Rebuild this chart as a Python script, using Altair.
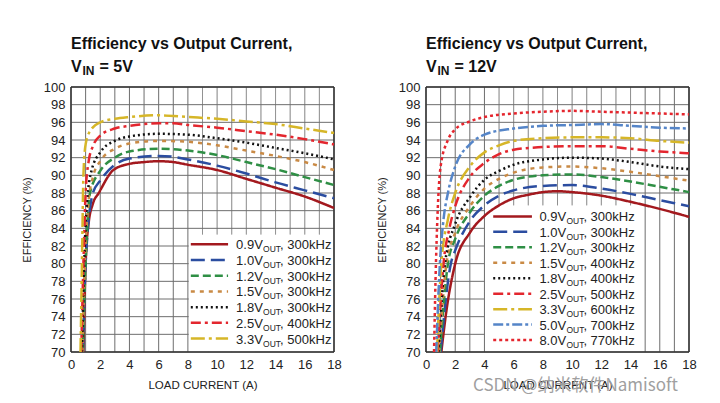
import altair as alt
import pandas as pd

FONT = "Liberation Sans, Arial, sans-serif"

# ---------------- Left panel: VIN = 5V ----------------
left_names = ["0.9V", "1.0V", "1.2V", "1.5V", "1.8V", "2.5V", "3.3V"]
left_freqs = ["300kHz", "300kHz", "300kHz", "300kHz", "300kHz", "400kHz", "500kHz"]

l09_i = [0.85, 1.0, 1.2, 1.5, 1.9, 2.9, 4, 5, 6, 7, 8, 10, 12, 14, 16, 18]
l09_e = [70, 80, 84.5, 86.8, 88.0, 90.6, 91.3, 91.5, 91.6, 91.5, 91.2, 90.6, 89.6, 88.6, 87.6, 86.3]
l10_i = [0.82, 1.0, 1.5, 2, 3, 4, 6, 7, 8, 10, 12, 14, 16, 18]
l10_e = [70, 80, 88.0, 89.4, 91.2, 91.9, 92.2, 92.1, 91.8, 91.1, 90.2, 89.2, 88.3, 87.4]
l12_i = [0.8, 1.0, 1.3, 2, 3, 4, 6, 8, 10, 12, 14, 16, 18]
l12_e = [70, 80, 88.0, 90.5, 92.0, 92.7, 93.0, 92.8, 92.3, 91.5, 90.7, 89.8, 88.9]
l15_i = [0.78, 0.95, 1.2, 1.5, 2, 3, 4, 6, 8, 10, 12, 14, 16, 18]
l15_e = [70, 80, 87.0, 89.8, 91.6, 93.0, 93.6, 93.9, 93.8, 93.4, 92.8, 92.2, 91.5, 90.6]
l18_i = [0.75, 0.9, 1.1, 1.4, 2, 3, 4, 6, 8, 10, 12, 14, 16, 18]
l18_e = [70, 80, 87.0, 90.5, 92.6, 93.9, 94.4, 94.7, 94.6, 94.2, 93.7, 93.1, 92.5, 91.8]
l25_i = [0.7, 0.85, 1.0, 1.2, 1.5, 2, 3, 4, 6, 7, 8, 10, 12, 14, 16, 18]
l25_e = [70, 80, 88.0, 91.5, 93.3, 94.5, 95.3, 95.6, 95.9, 95.9, 95.7, 95.4, 95.0, 94.6, 94.1, 93.5]
l33_i = [0.65, 0.75, 0.85, 1.0, 1.3, 2, 3, 4, 6, 8, 10, 12, 14, 16, 18]
l33_e = [70, 80, 90.0, 93.5, 95.0, 96.0, 96.4, 96.6, 96.8, 96.6, 96.4, 96.1, 95.8, 95.3, 94.8]
left_i = [l09_i, l10_i, l12_i, l15_i, l18_i, l25_i, l33_i]
left_e = [l09_e, l10_e, l12_e, l15_e, l18_e, l25_e, l33_e]

# ---------------- Right panel: VIN = 12V ----------------
right_names = ["0.9V", "1.0V", "1.2V", "1.5V", "1.8V", "2.5V", "3.3V", "5.0V", "8.0V"]
right_freqs = ["300kHz", "300kHz", "300kHz", "400kHz", "400kHz", "500kHz", "600kHz", "700kHz", "770kHz"]

r09_i = [1.05, 1.4, 2, 3, 4, 5, 6, 7, 8, 9, 10, 12, 14, 16, 18]
r09_e = [70, 74.7, 80.0, 83.5, 85.4, 86.6, 87.4, 87.8, 88.1, 88.2, 88.1, 87.7, 87.0, 86.2, 85.3]
r10_i = [1.0, 1.7, 2, 3, 4, 5, 6, 8, 10, 12, 14, 16, 18]
r10_e = [70, 80, 81.5, 84.8, 86.6, 87.7, 88.3, 88.8, 88.9, 88.5, 87.9, 87.2, 86.5]
r12_i = [0.95, 1.5, 2, 3, 4, 5, 6, 8, 10, 12, 14, 16, 18]
r12_e = [70, 80, 82.8, 85.8, 87.7, 88.8, 89.5, 90.0, 90.1, 89.8, 89.3, 88.7, 88.1]
r15_i = [0.9, 1.4, 2, 3, 4, 5, 6, 8, 10, 12, 14, 16, 18]
r15_e = [70, 80, 83.5, 86.5, 88.5, 89.6, 90.3, 90.9, 91.0, 90.8, 90.4, 89.9, 89.4]
r18_i = [0.85, 1.3, 2, 3, 4, 5, 6, 8, 10, 12, 14, 16, 18]
r18_e = [70, 80, 84.5, 87.5, 89.5, 90.5, 91.2, 91.8, 92.0, 91.9, 91.5, 91.0, 90.7]
r25_i = [0.8, 1.2, 1.6, 2, 3, 4, 5, 6, 8, 10, 12, 14, 16, 18]
r25_e = [70, 80, 84.0, 86.5, 89.8, 91.4, 92.4, 92.9, 93.2, 93.3, 93.3, 93.0, 92.7, 92.5]
r33_i = [0.75, 1.05, 1.5, 2, 3, 4, 5, 6, 8, 10, 12, 14, 16, 18]
r33_e = [70, 80, 85.0, 88.0, 91.0, 92.6, 93.4, 93.9, 94.2, 94.3, 94.3, 94.2, 93.9, 93.7]
r50_i = [0.7, 0.95, 1.2, 1.5, 2, 3, 4, 6, 8, 10, 12, 14, 16, 18]
r50_e = [70, 80, 85.0, 88.0, 91.0, 93.5, 94.6, 95.3, 95.6, 95.7, 95.8, 95.6, 95.4, 95.3]
r80_i = [0.55, 0.65, 0.8, 1.0, 1.5, 2, 3, 4, 6, 8, 10, 12, 14, 16, 18]
r80_e = [70, 78, 86.0, 91.0, 94.0, 95.2, 96.1, 96.6, 97.0, 97.2, 97.3, 97.2, 97.1, 97.0, 96.9]
right_i = [r09_i, r10_i, r12_i, r15_i, r18_i, r25_i, r33_i, r50_i, r80_i]
right_e = [r09_e, r10_e, r12_e, r15_e, r18_e, r25_e, r33_e, r50_e, r80_e]

# ---------------- Grid / ticks ----------------
grid_x = list(range(0, 19))
grid_y = list(range(70, 101, 2))
tick_x = list(range(0, 19, 2))

# ---------------- Styles ----------------
style_names = ["0.9V", "1.0V", "1.2V", "1.5V", "1.8V", "2.5V", "3.3V", "5.0V", "8.0V",
               "grid", "border"]
style_colors = ["#a3191e", "#2b4da0", "#2f8f45", "#c98a45", "#111111",
                "#e3262e", "#d6b628", "#5585c8", "#e5262e", "#6e6e6e", "#333333"]
style_dashes = [[1, 0], [14, 6], [8, 4], [4, 5], [2, 3],
                [10, 4, 3, 4], [14, 4, 3, 4], [10, 3, 3, 3], [3, 3], [1, 0], [1, 0]]

xs = alt.Scale(domain=[0, 18], nice=False, zero=False)
ys = alt.Scale(domain=[70, 100], nice=False, zero=False)
cs = alt.Scale(domain=style_names, range=style_colors)
ds = alt.Scale(domain=style_names, range=style_dashes)

xaxis = alt.Axis(values=tick_x, title="LOAD CURRENT (A)", grid=False, ticks=False,
                 domain=False, labelFont=FONT, labelFontSize=13, labelPadding=6,
                 labelColor="#222", titleFont=FONT, titleFontSize=11.5,
                 titleFontWeight="normal", titleColor="#222", titlePadding=8,
                 labelFlush=False)
yaxis = alt.Axis(values=grid_y, title="EFFICIENCY (%)", grid=False, ticks=False,
                 domain=False, labelFont=FONT, labelFontSize=13, labelPadding=6,
                 labelColor="#222", titleFont=FONT, titleFontSize=11,
                 titleFontWeight="normal", titleColor="#222", titlePadding=11,
                 labelFlush=False)


def X(field="I"):
    return alt.X(f"{field}:Q", scale=xs, axis=xaxis)


def Y(field="E"):
    return alt.Y(f"{field}:Q", scale=ys, axis=yaxis)


def C():
    return alt.Color("series:N", scale=cs, legend=None)


def D():
    return alt.StrokeDash("series:N", scale=ds, legend=None)


def panel(names, freqs, ilists, elists, vin, box, leg_x, leg_y0, leg_step, watermark=False):
    rows = []
    for n, il, el in zip(names, ilists, elists):
        for k, (i, e) in enumerate(zip(il, el)):
            rows.append({"series": n, "I": i, "E": e, "k": k})
    df = pd.DataFrame(rows)

    # grid segments, interrupted where the legend box sits
    bx0, bx1, by0, by1 = box
    vsegs = [{"series": "grid", "I": gx, "E": (by1 if bx0 < gx < bx1 else 70), "E2": 100}
             for gx in grid_x]
    hsegs = [{"series": "grid", "I": 0, "I2": (bx0 if by0 < gy < by1 else 18), "E": gy}
             for gy in grid_y]
    vgrid = alt.Chart(pd.DataFrame(vsegs)).mark_rule(strokeWidth=1).encode(
        x=X(), y=Y(), y2="E2:Q", color=C(), strokeDash=D())
    hgrid = alt.Chart(pd.DataFrame(hsegs)).mark_rule(strokeWidth=1).encode(
        x=X(), x2="I2:Q", y=Y(), color=C(), strokeDash=D())

    # plot frame
    bv = pd.DataFrame([{"series": "border", "I": gx, "E": 70, "E2": 100}
                       for gx in (grid_x[0], grid_x[-1])])
    bh = pd.DataFrame([{"series": "border", "I": 0, "I2": 18, "E": gy}
                       for gy in (grid_y[0], grid_y[-1])])
    vframe = alt.Chart(bv).mark_rule(strokeWidth=1.5).encode(
        x=X(), y=Y(), y2="E2:Q", color=C(), strokeDash=D())
    hframe = alt.Chart(bh).mark_rule(strokeWidth=1.5).encode(
        x=X(), x2="I2:Q", y=Y(), color=C(), strokeDash=D())

    lines = alt.Chart(df).mark_line(strokeWidth=2.5, interpolate="monotone").encode(
        x=X(), y=Y(), color=C(), strokeDash=D(),
        detail="series:N", order="k:Q")

    leg = pd.DataFrame([{"series": n, "I": leg_x[0], "I2": leg_x[1], "It": leg_x[2],
                         "E": leg_y0 - j * leg_step, "main": n, "sub": "OUT",
                         "rest": ", " + f}
                        for j, (n, f) in enumerate(zip(names, freqs))])
    leg_lines = alt.Chart(leg).mark_rule(strokeWidth=2.5).encode(
        x=X(), x2="I2:Q", y=Y(), color=C(), strokeDash=D())
    t_main = alt.Chart(leg).mark_text(align="left", baseline="alphabetic", dy=5,
                                      font=FONT, fontSize=13, color="#222").encode(
        x=X("It"), y=Y(), text="main:N")
    t_sub = alt.Chart(leg).mark_text(align="left", baseline="alphabetic", dx=27, dy=8,
                                     font=FONT, fontSize=8.5, color="#222").encode(
        x=X("It"), y=Y(), text="sub:N")
    t_rest = alt.Chart(leg).mark_text(align="left", baseline="alphabetic", dx=44, dy=5,
                                      font=FONT, fontSize=13, color="#222").encode(
        x=X("It"), y=Y(), text="rest:N")

    def label(txt, x, y, size, weight="bold", font=FONT, color="#111"):
        return alt.Chart(pd.DataFrame({"t": [txt]})).mark_text(
            align="left", baseline="alphabetic", font=font, fontSize=size,
            fontWeight=weight, color=color).encode(
            x=alt.value(x), y=alt.value(y), text="t:N")

    layers = [vgrid, hgrid, vframe, hframe, lines, leg_lines, t_main, t_sub, t_rest,
              label("Efficiency vs Output Current,", 0, -38, 16),
              label("V", 0, -15, 16),
              label("IN", 11.5, -12, 12),
              label("= " + vin, 28.5, -15, 16)]
    if watermark:
        layers.append(label("CSDN @纳米软件Namisoft", 47, 303.5, 17, weight="normal",
                            font="Noto Sans CJK SC", color="#a0a0a0"))
    return alt.layer(*layers).properties(width=263, height=265)


left = panel(left_names, left_freqs, left_i, left_e, "5V",
             box=(8.05, 18, 70.5, 83.3), leg_x=(8.2, 10.75, 11.3),
             leg_y0=82.2, leg_step=1.78)
right = panel(right_names, right_freqs, right_i, right_e, "12V",
              box=(4.0, 14.75, 70.5, 86.6), leg_x=(4.6, 7.25, 7.76),
              leg_y0=85.35, leg_step=1.75, watermark=True)

chart = alt.hconcat(left, right, spacing=34).properties(
    padding={"left": 13, "top": 28, "right": 0, "bottom": 0},
    background="white"
).configure_view(stroke=None)

chart.save("out.html", embed_options={"renderer": "svg", "actions": False})
